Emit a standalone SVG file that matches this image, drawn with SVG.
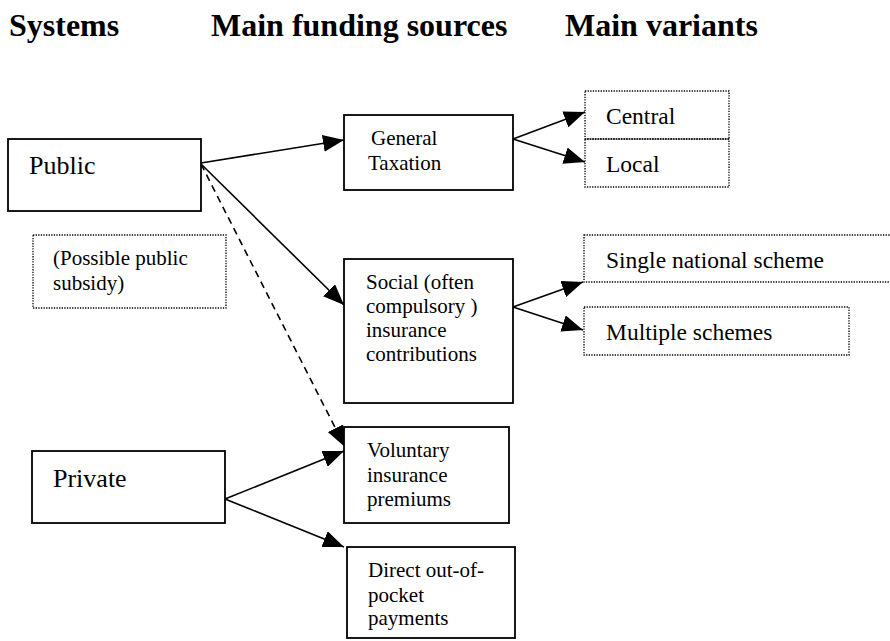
<svg xmlns="http://www.w3.org/2000/svg" width="890" height="641" viewBox="0 0 890 641">
<defs>
<marker id="ah" markerUnits="userSpaceOnUse" markerWidth="21" markerHeight="17" refX="21" refY="8.5" orient="auto">
<path d="M0,0 L21,8.5 L0,17 z" fill="#000"/>
</marker>
</defs>
<style>
.box{fill:#fff;stroke:#000;stroke-width:1.8}
.dot{fill:none;stroke:#000;stroke-width:1.3;stroke-dasharray:1.3 1.3}
.ln{fill:none;stroke:#000;stroke-width:1.6}
</style>
<rect width="890" height="641" fill="#fff"/>
<g id="headers" font-family="Liberation Serif" font-weight="bold" font-size="32">
<text x="9" y="36" font-family="Liberation Serif">Systems</text>
<text x="211" y="36" font-family="Liberation Serif">Main funding sources</text>
<text x="565" y="36" font-family="Liberation Serif">Main variants</text>
</g>
<g id="connectors">
<line class="ln" x1="201" y1="163" x2="344" y2="140" marker-end="url(#ah)"/>
<line class="ln" x1="201" y1="164" x2="344" y2="305" marker-end="url(#ah)"/>
<line class="ln" x1="201" y1="164" x2="345" y2="447" stroke-dasharray="7 5" marker-end="url(#ah)"/>
<line class="ln" x1="225" y1="499" x2="344" y2="451" marker-end="url(#ah)"/>
<line class="ln" x1="225" y1="499" x2="344" y2="547" marker-end="url(#ah)"/>
<line class="ln" x1="513" y1="139" x2="585" y2="112" marker-end="url(#ah)"/>
<line class="ln" x1="513" y1="139" x2="585" y2="162" marker-end="url(#ah)"/>
<line class="ln" x1="513" y1="307" x2="583" y2="282" marker-end="url(#ah)"/>
<line class="ln" x1="513" y1="307" x2="583" y2="330" marker-end="url(#ah)"/>
</g>
<g id="public">
<rect class="box" x="8" y="139" width="193" height="72"/>
<text x="29" y="174" font-family="Liberation Serif" font-size="26">Public</text>
</g>
<g id="subsidy" font-family="Liberation Serif" font-size="21">
<rect class="dot" x="33" y="235" width="193" height="73"/>
<text x="53" y="265" font-family="Liberation Serif">(Possible public</text>
<text x="53" y="290" font-family="Liberation Serif">subsidy)</text>
</g>
<g id="private">
<rect class="box" x="32" y="451" width="193" height="72"/>
<text x="53" y="487" font-family="Liberation Serif" font-size="26">Private</text>
</g>
<g id="taxation" font-family="Liberation Serif" font-size="21">
<rect class="box" x="344" y="115" width="169" height="75"/>
<text x="371" y="145" font-family="Liberation Serif">General</text>
<text x="368" y="170" font-family="Liberation Serif">Taxation</text>
</g>
<g id="social" font-family="Liberation Serif" font-size="21">
<rect class="box" x="344" y="259" width="169" height="144"/>
<text x="366" y="289" font-family="Liberation Serif">Social (often</text>
<text x="366" y="313" font-family="Liberation Serif">compulsory )</text>
<text x="366" y="337" font-family="Liberation Serif">insurance</text>
<text x="366" y="361" font-family="Liberation Serif">contributions</text>
</g>
<g id="voluntary" font-family="Liberation Serif" font-size="21">
<rect class="box" x="344" y="427" width="165" height="96"/>
<text x="367" y="457" font-family="Liberation Serif">Voluntary</text>
<text x="367" y="482" font-family="Liberation Serif">insurance</text>
<text x="367" y="506" font-family="Liberation Serif">premiums</text>
</g>
<g id="direct" font-family="Liberation Serif" font-size="21">
<rect class="box" x="347" y="547" width="168" height="91"/>
<text x="368" y="577" font-family="Liberation Serif">Direct out-of-</text>
<text x="368" y="602" font-family="Liberation Serif">pocket</text>
<text x="368" y="625" font-family="Liberation Serif">payments</text>
</g>
<g id="central" font-family="Liberation Serif" font-size="23.5">
<rect class="dot" x="585" y="91" width="144" height="48"/>
<text x="606" y="124" font-family="Liberation Serif">Central</text>
</g>
<g id="local" font-family="Liberation Serif" font-size="23.5">
<rect class="dot" x="585" y="139" width="144" height="48"/>
<text x="606" y="172" font-family="Liberation Serif">Local</text>
</g>
<g id="single" font-family="Liberation Serif" font-size="23.5">
<rect class="dot" x="584" y="235" width="320" height="47"/>
<text x="606" y="268" font-family="Liberation Serif">Single national scheme</text>
</g>
<g id="multiple" font-family="Liberation Serif" font-size="23.5">
<rect class="dot" x="584" y="307" width="265" height="48"/>
<text x="606" y="340" font-family="Liberation Serif">Multiple schemes</text>
</g>
</svg>
